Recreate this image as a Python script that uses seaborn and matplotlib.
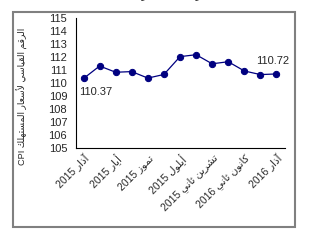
import matplotlib
matplotlib.use("Agg")
import matplotlib.pyplot as plt
import seaborn as sns
import pandas as pd
from matplotlib.patches import Rectangle

# ---- data ----
months = ["آذار 2015", "نيسان 2015", "أيار 2015", "حزيران 2015", "تموز 2015",
          "آب 2015", "أيلول 2015", "تشرين أول 2015", "تشرين ثاني 2015",
          "كانون أول 2015", "كانون ثاني 2016", "شباط 2016", "آذار 2016"]
cpi = [110.37, 111.33, 110.85, 110.90, 110.40, 110.68, 112.05, 112.20,
       111.50, 111.66, 110.95, 110.67, 110.72]
y_ticks = [105, 106, 107, 108, 109, 110, 111, 112, 113, 114, 115]
y_label = "الرقم القياسي لأسعار المستهلك CPI"
title_text = "(آذار 2015 - آذار 2016)"

# ---- minimal Arabic shaping (presentation forms) ----
FORMS = {
    'ا': (0xFE8D, 0xFE8E, None, None), 'آ': (0xFE81, 0xFE82, None, None),
    'أ': (0xFE83, 0xFE84, None, None), 'ب': (0xFE8F, 0xFE90, 0xFE91, 0xFE92),
    'ت': (0xFE95, 0xFE96, 0xFE97, 0xFE98), 'ث': (0xFE99, 0xFE9A, 0xFE9B, 0xFE9C),
    'ح': (0xFEA1, 0xFEA2, 0xFEA3, 0xFEA4), 'ذ': (0xFEAB, 0xFEAC, None, None),
    'ر': (0xFEAD, 0xFEAE, None, None), 'ز': (0xFEAF, 0xFEB0, None, None),
    'س': (0xFEB1, 0xFEB2, 0xFEB3, 0xFEB4), 'ش': (0xFEB5, 0xFEB6, 0xFEB7, 0xFEB8),
    'ط': (0xFEC1, 0xFEC2, 0xFEC3, 0xFEC4), 'ع': (0xFEC9, 0xFECA, 0xFECB, 0xFECC),
    'ق': (0xFED5, 0xFED6, 0xFED7, 0xFED8), 'ك': (0xFED9, 0xFEDA, 0xFEDB, 0xFEDC),
    'ل': (0xFEDD, 0xFEDE, 0xFEDF, 0xFEE0), 'م': (0xFEE1, 0xFEE2, 0xFEE3, 0xFEE4),
    'ن': (0xFEE5, 0xFEE6, 0xFEE7, 0xFEE8), 'ه': (0xFEE9, 0xFEEA, 0xFEEB, 0xFEEC),
    'و': (0xFEED, 0xFEEE, None, None), 'ي': (0xFEF1, 0xFEF2, 0xFEF3, 0xFEF4),
}
LAM_ALEF = {'ا': (0xFEFB, 0xFEFC), 'أ': (0xFEF7, 0xFEF8), 'آ': (0xFEF5, 0xFEF6)}


def shape_word(word):
    chars = list(word)
    out = []
    i = 0
    n = len(chars)
    prev_joins = False
    while i < n:
        c = chars[i]
        if c == 'ل' and i + 1 < n and chars[i + 1] in LAM_ALEF:
            iso, fin = LAM_ALEF[chars[i + 1]]
            out.append(chr(fin if prev_joins else iso))
            prev_joins = False
            i += 2
            continue
        if c not in FORMS:
            out.append(c)
            prev_joins = False
            i += 1
            continue
        iso, fin, ini, med = FORMS[c]
        nxt = chars[i + 1] if i + 1 < n else None
        next_ok = ini is not None and nxt in FORMS
        if prev_joins and next_ok:
            out.append(chr(med))
        elif prev_joins:
            out.append(chr(fin))
        elif next_ok:
            out.append(chr(ini))
        else:
            out.append(chr(iso))
        prev_joins = ini is not None
        i += 1
    return ''.join(out)


def visual(text):
    tokens = text.split(' ')
    shaped = []
    for t in tokens:
        if any(ch in FORMS for ch in t):
            shaped.append(shape_word(t)[::-1])
        else:
            shaped.append(t)
    return ' '.join(shaped[::-1])


df = pd.DataFrame({"idx": range(len(months)), "cpi": cpi})

sns.set_style("white")
plt.rcParams['font.family'] = ['Liberation Sans', 'DejaVu Sans']

fig = plt.figure(figsize=(3.18, 2.41), dpi=100)
ax = fig.add_axes([75.5 / 318, 1 - 148.3 / 241, (284.5 - 75.5) / 318, (148.3 - 18.3) / 241])

sns.lineplot(data=df, x="idx", y="cpi", ax=ax, color="#000080", linewidth=0.9,
             marker="o", markersize=4.5, markeredgecolor="#000080",
             markerfacecolor="#000080")

ax.set_xlim(-0.5, len(months) - 0.5)
ax.set_ylim(y_ticks[0], y_ticks[-1])
ax.set_yticks(y_ticks)
ax.set_yticklabels([str(v) for v in y_ticks], fontsize=8)

ax.set_xticks([i - 0.5 for i in range(len(months) + 1)])
ax.set_xticklabels([])
lab_idx = list(range(0, len(months), 2))
ax.set_xticks(lab_idx, minor=True)
ax.set_xticklabels([visual(months[i]) for i in lab_idx], minor=True,
                   rotation=45, ha='right', va='top', rotation_mode='anchor',
                   fontsize=7.5)
ax.tick_params(axis='x', which='minor', length=0, pad=3)
ax.tick_params(axis='x', which='major', length=4, width=0.8, color='black', direction='out')
ax.tick_params(axis='y', length=4, width=0.8, color='black', direction='out', pad=2)

for s in ['top', 'right']:
    ax.spines[s].set_visible(False)
for s in ['left', 'bottom']:
    ax.spines[s].set_color('black')
    ax.spines[s].set_linewidth(0.8)

ax.set_xlabel("")
ax.set_ylabel(visual(y_label), fontsize=6.6)
ax.yaxis.set_label_coords(-0.225, 0.40)

ax.annotate(f"{cpi[0]:.2f}", (0, cpi[0]), xytext=(-3, -10), textcoords='offset points',
            fontsize=8, ha='left', va='center')
ax.annotate(f"{cpi[-1]:.2f}", (len(months) - 1, cpi[-1]), xytext=(-15, 9),
            textcoords='offset points', fontsize=8, ha='left', va='center')

fig.patches.append(Rectangle((13 / 318, 1 - 227 / 241), (295 - 13) / 318, (227 - 12) / 241,
                             transform=fig.transFigure, fill=False,
                             edgecolor='#808080', linewidth=1.5))

fig.text(163 / 318, 1 - 1 / 241, visual(title_text), ha='center', va='bottom', fontsize=8)

fig.savefig("out.png", dpi=100)
